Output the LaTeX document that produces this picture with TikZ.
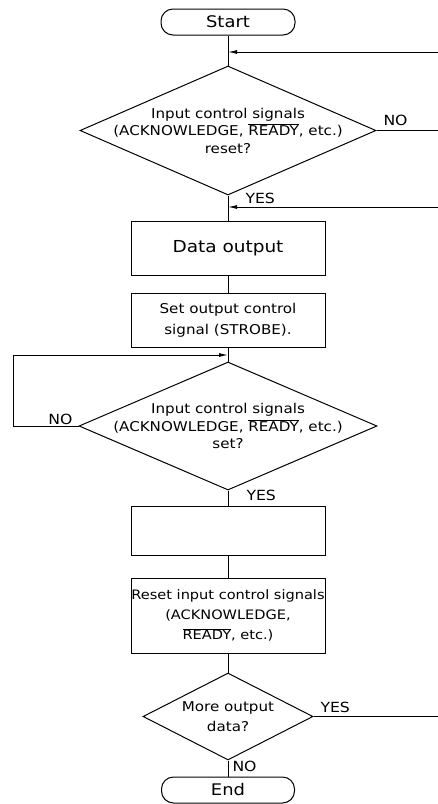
\documentclass[tikz,border=0pt]{standalone}
\usepackage{fontspec}
\setmainfont{DejaVu Sans}[FakeStretch=1.12]
\usetikzlibrary{shapes.geometric,arrows.meta}
\begin{document}
\begin{tikzpicture}[x=1pt,y=-1pt,
  line width=1pt,
  box/.style={draw, rectangle, minimum width=194pt, inner sep=0pt, align=center, font=\fontsize{13.5}{21}\selectfont},
  term/.style={draw, rectangle, rounded corners=12pt, minimum width=134pt, minimum height=26pt, inner sep=0pt, font=\fontsize{16}{18}\selectfont},
  dia/.style={draw, diamond, inner sep=0pt},
  dtext/.style={align=center, font=\fontsize{13.5}{17.5}\selectfont, inner sep=0pt},
  lbl/.style={font=\fontsize{14}{15}\selectfont, inner sep=0pt},
  arr/.style={-{Latex[length=9pt,width=4pt]}},
]
\useasboundingbox (0,0) rectangle (438,804);

\node[term] (start) at (228,22) {Start};
\node[dia, minimum width=296pt, minimum height=129pt] (d1) at (228,130.5) {};
\node[dtext] (d1t) at (d1.center) {Input control signals\\(ACKNOWLEDGE, $\overline{\mbox{READY}}$, etc.)\\reset?};
\node[box, minimum height=54pt, font=\fontsize{16.5}{18}\selectfont] (b1) at (228,248) {Data output};
\node[box, minimum height=54pt] (b2) at (228,320) {Set output control\\signal (STROBE).};
\node[dia, minimum width=298pt, minimum height=128pt] (d2) at (228,426) {};
\node[dtext] (d2t) at (d2.center) {Input control signals\\(ACKNOWLEDGE, $\overline{\mbox{READY}}$, etc.)\\set?};
\node[box, minimum height=49pt] (b3) at (228,530.5) {};
\node[box, minimum height=75pt, font=\fontsize{13}{20}\selectfont] (b4) at (228,615.5) {Reset input control signals\\(ACKNOWLEDGE,\\$\overline{\mbox{READY}}$, etc.)};
\node[dia, minimum width=170pt, minimum height=87pt] (d3) at (228,716.5) {};
\node[dtext, font=\fontsize{13.5}{20}\selectfont] (d3t) at (d3.center) {More output\\data?};
\node[term, minimum width=133pt] (end) at (228,790) {End};

\coordinate (r1) at (438,52);
\coordinate (r3) at (438,207);
\coordinate (l1) at (13,355);

\draw (start.south) -- (d1.north);
\draw[arr] (r1) -- (r1 -| start.south);
\draw (d1.east) -- (d1.east -| r1);
\draw (d1.south) -- (b1.north);
\draw[arr] (r3) -- (r3 -| b1.north);
\draw (b1.south) -- (b2.north);
\draw (b2.south) -- (d2.north);
\draw[arr] (d2.west) -- (d2.west -| l1) -- (l1) -- (l1 -| d2.north);
\draw (d2.south) -- (b3.north);
\draw (b3.south) -- (b4.north);
\draw (b4.south) -- (d3.north);
\draw (d3.east) -- (d3.east -| r1);
\draw (d3.south) -- (end.north);

\node[lbl, anchor=base west] (no1) at (383,125) {NO};
\node[lbl, anchor=base west] (yes1) at (245,203) {YES};
\node[lbl, anchor=base west] (no2) at (48,424) {NO};
\node[lbl, anchor=base west] (yes2) at (246,500) {YES};
\node[lbl, anchor=base west] (yes3) at (320,712) {YES};
\node[lbl, anchor=base west] (no3) at (232,771) {NO};
\end{tikzpicture}
\end{document}
